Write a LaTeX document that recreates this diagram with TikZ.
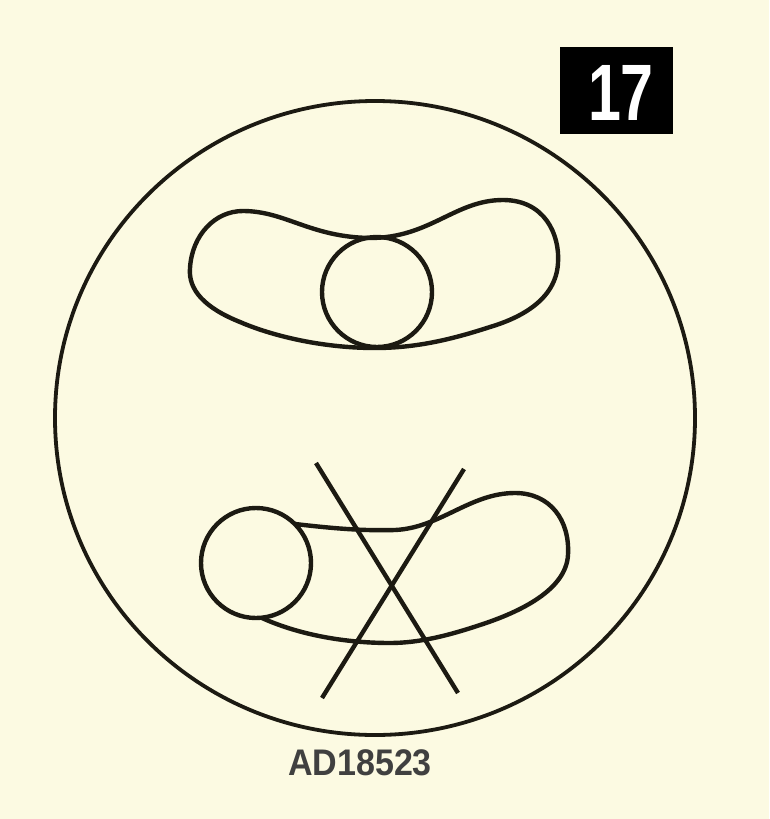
\documentclass[tikz,border=0pt]{standalone}
\usepackage{fontspec}
\setmainfont{Liberation Sans}
\usepackage{tikz}
\usetikzlibrary{positioning,calc}
\usepackage{xcolor}
\definecolor{creambg}{RGB}{252,250,226}
\definecolor{inkdark}{RGB}{28,26,18}

\begin{document}
\begin{tikzpicture}[x=1pt, y=-1pt,
    outline/.style={draw=inkdark, line width=4.4pt, line join=round},
    crossline/.style={draw=inkdark, line width=4.4pt},
    badge/.style={fill=black, minimum width=113pt, minimum height=87pt, inner sep=0pt},
    caption/.style={font=\fontsize{37}{40}\selectfont\bfseries, text=black!75}]

    % Background
    \fill[creambg] (0,0) rectangle (769,819);
    \useasboundingbox (0,0) rectangle (769,819);

    % Outer circle
    \draw[outline, line width=3.8pt] (375,418) ellipse (320 and 317);

    % Upper shape (correct)
    \draw[outline] (243,211) .. controls (285,211) and (310,237) .. (370,238)
        .. controls (430,238) and (455,200) .. (503,200)
        .. controls (545,200) and (560,235) .. (558,263)
        .. controls (556,300) and (520,318) .. (490,327)
        .. controls (450,340) and (415,348) .. (375,348)
        .. controls (320,348) and (270,335) .. (240,322)
        .. controls (205,308) and (188,290) .. (190,268)
        .. controls (192,235) and (215,211) .. (243,211) -- cycle;
    \draw[outline] (377,292) circle (55);

    % Lower shape (wrong)
    \draw[outline] (256,563) circle (55);
    \draw[outline] (295,524) .. controls (330,528) and (360,531) .. (395,530)
        .. controls (440,528) and (470,493) .. (515,493)
        .. controls (550,493) and (570,520) .. (568,555)
        .. controls (566,590) and (520,612) .. (480,625)
        .. controls (450,635) and (420,643) .. (390,643)
        .. controls (340,643) and (295,633) .. (262,618);

    % Cross
    \coordinate (c1a) at (316,463);
    \coordinate (c1b) at (458,693);
    \coordinate (c2a) at (464,469);
    \coordinate (c2b) at (322,698);
    \draw[crossline] (c1a) -- (c1b);
    \draw[crossline] (c2a) -- (c2b);

    % Labels
    \node[badge] (num) at (616,90) {};
    \node[font=\fontsize{80}{82}\selectfont\bfseries, text=white] (numtext) at (621,93)
        {\scalebox{0.74}[1]{17}};
    \node[caption] (code) at (360,763) {\scalebox{0.92}[1]{AD18523}};
\end{tikzpicture}
\end{document}
